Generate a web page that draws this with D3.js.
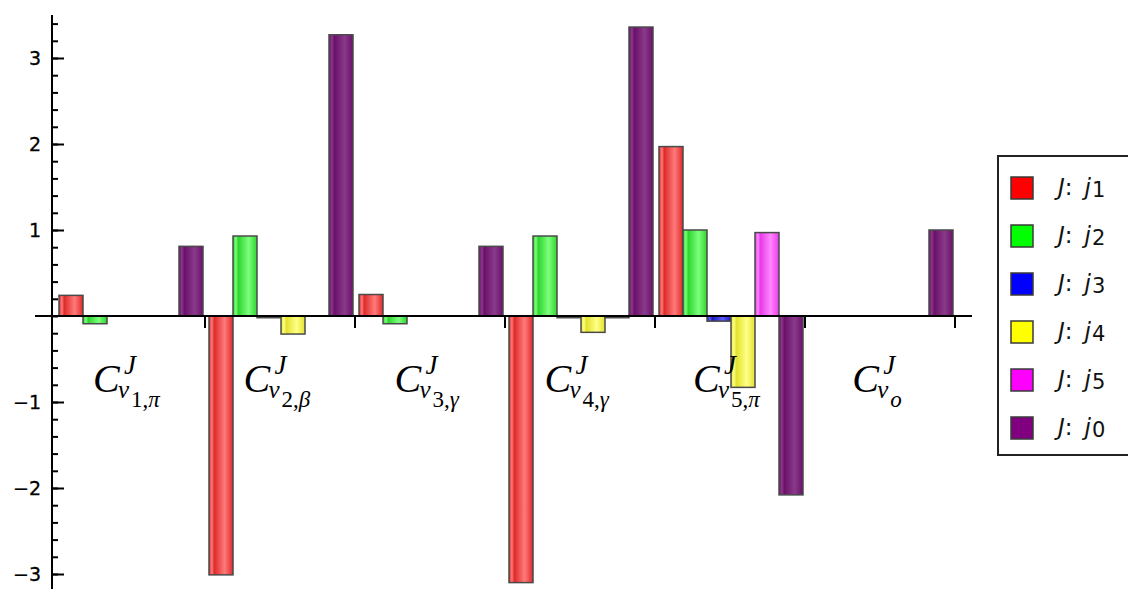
<!DOCTYPE html>
<html>
<head>
<meta charset="utf-8">
<script src="https://cdn.jsdelivr.net/npm/d3@7"></script>
<style>
  html, body { margin: 0; padding: 0; background: #fff; }
  svg { display: block; }
</style>
</head>
<body>
<svg id="chart" width="1128" height="589"></svg>
<script>
// ---------------- data ----------------
const categories = ["v1", "v2", "v3", "v4", "v5", "v0"];
const labelSub1 = ["v", "v", "v", "v", "v", "v"];
const labelNum = ["1,", "2,", "3,", "4,", "5,", ""];
const labelSym = ["π", "β", "γ", "γ", "π", "o"];
const seriesNames = ["j1", "j2", "j3", "j4", "j5", "j0"];
const legendSubs = ["1", "2", "3", "4", "5", "0"];
const j1 = [0.24, -3.01, 0.25, -3.10, 1.97, 0];
const j2 = [-0.09, 0.93, -0.09, 0.93, 1.00, 0];
const j3 = [0, -0.02, 0, -0.02, -0.06, 0];
const j4 = [0, -0.21, 0, -0.19, -0.83, 0];
const j5 = [0, 0, 0, -0.02, 0.97, 0];
const j0 = [0.81, 3.27, 0.81, 3.36, -2.08, 1.00];
const yTickValues = [-3, -2, -1, 1, 2, 3];
const seriesValues = [j1, j2, j3, j4, j5, j0];

// ---------------- styles ----------------
const baseColors = ["#ff0000", "#00ff00", "#0000ff", "#ffff00", "#ff00ff", "#800080"];
const barDark = ["#de2a2a", "#2ed52e", "#1a1ab8", "#e2e22e", "#e83ae8", "#6a106a"];
const barLight = ["#ff7a7a", "#7cff7c", "#5a5aff", "#ffff86", "#ff86ff", "#8a3a8a"];

const svg = d3.select("#chart");
const defs = svg.append("defs");
seriesNames.forEach((s, i) => {
  const g = defs.append("linearGradient").attr("id", "grad" + i)
    .attr("x1", "0%").attr("x2", "100%").attr("y1", "0%").attr("y2", "0%");
  g.append("stop").attr("offset", "0%").attr("stop-color", barDark[i]);
  g.append("stop").attr("offset", "12%").attr("stop-color", barLight[i]);
  g.append("stop").attr("offset", "22%").attr("stop-color", barDark[i]);
  g.append("stop").attr("offset", "65%").attr("stop-color", barLight[i]);
  g.append("stop").attr("offset", "100%").attr("stop-color", barDark[i]);
});

// ---------------- scales ----------------
const x0 = d3.scaleBand().domain(categories).range([55, 955]).padding(0);
const x1 = d3.scaleBand().domain(seriesNames).range([4, 148]).padding(0);
const y = d3.scaleLinear().domain([-3, 3]).range([574, 58]);
const axisX = 52;

// ---------------- bars ----------------
const barData = [];
categories.forEach((c, ci) => {
  seriesNames.forEach((s, si) => {
    const v = seriesValues[si][ci];
    if (v !== 0) barData.push({ c, s, si, v });
  });
});

svg.append("g").selectAll("rect").data(barData).join("rect")
  .attr("x", d => x0(d.c) + x1(d.s))
  .attr("width", x1.bandwidth())
  .attr("y", d => Math.min(y(d.v), y(0)))
  .attr("height", d => Math.max(1.5, Math.abs(y(d.v) - y(0))))
  .attr("fill", d => `url(#grad${d.si})`)
  .attr("stroke", "#4a4a4a")
  .attr("stroke-width", 1.5);

// ---------------- y axis ----------------
const yAxisG = svg.append("g").attr("transform", `translate(${axisX},0)`);
const minorTicks = d3.range(-16, 18).map(k => k * 0.2).filter(v => y(v) >= 14 && y(v) <= 589);
yAxisG.append("g")
  .call(d3.axisLeft(y).tickValues(minorTicks).tickSize(-6).tickFormat(""))
  .call(g => g.select(".domain").remove())
  .call(g => g.selectAll("line").attr("stroke", "#000").attr("stroke-width", 2));
yAxisG.append("g")
  .call(d3.axisLeft(y).tickValues(yTickValues).tickSize(-12).tickPadding(11).tickFormat(d3.format("d")))
  .call(g => g.select(".domain").remove())
  .call(g => g.selectAll("line").attr("stroke", "#000").attr("stroke-width", 2))
  .call(g => g.selectAll("text").attr("font-family", "DejaVu Sans, sans-serif")
    .attr("font-size", 19).attr("fill", "#000").attr("stroke", "#000").attr("stroke-width", 0.3));
yAxisG.append("line").attr("x1", 0).attr("x2", 0)
  .attr("y1", y(3.5)).attr("y2", 589).attr("stroke", "#000").attr("stroke-width", 2);

// ---------------- x axis ----------------
svg.append("line").attr("x1", 35).attr("x2", 972)
  .attr("y1", y(0)).attr("y2", y(0)).attr("stroke", "#000").attr("stroke-width", 2);
svg.append("g").selectAll("line").data(categories).join("line")
  .attr("x1", d => x0(d) + x0.bandwidth()).attr("x2", d => x0(d) + x0.bandwidth())
  .attr("y1", y(0)).attr("y2", y(0) + 12)
  .attr("stroke", "#000").attr("stroke-width", 2);

// ---------------- category labels ----------------
const serif = "Liberation Serif, Times New Roman, serif";
categories.forEach((c, ci) => {
  const g = svg.append("g");
  g.append("text").attr("x", 0).attr("y", 392).text("C")
    .attr("font-family", serif).attr("font-style", "italic").attr("font-size", 40);
  g.append("text").attr("x", 31).attr("y", 374).text("J")
    .attr("font-family", serif).attr("font-style", "italic").attr("font-size", 27);
  g.append("text").attr("x", 25).attr("y", 398).text(labelSub1[ci])
    .attr("font-family", serif).attr("font-style", "italic").attr("font-size", 25);
  const t = g.append("text").attr("x", 38).attr("y", 407)
    .attr("font-family", serif).attr("font-size", 23);
  t.append("tspan").text(labelNum[ci]);
  t.append("tspan").attr("font-style", "italic").text(labelSym[ci]);
  const bb = g.node().getBBox();
  const cx = x0(c) + x0.bandwidth() / 2 - 3;
  g.attr("transform", `translate(${cx - bb.width / 2 - bb.x},0)`);
});

// ---------------- legend ----------------
const legend = svg.append("g");
legend.append("rect").attr("x", 998).attr("y", 156).attr("width", 140).attr("height", 299)
  .attr("fill", "#fff").attr("stroke", "#222").attr("stroke-width", 2);
const ly = d3.scalePoint().domain(seriesNames).range([188, 428]);
seriesNames.forEach((s, i) => {
  legend.append("rect").attr("x", 1011).attr("y", ly(s) - 11).attr("width", 22).attr("height", 22)
    .attr("fill", baseColors[i]).attr("stroke", "#3a3a3a").attr("stroke-width", 1.5);
  const t = legend.append("text").attr("x", 1058).attr("y", ly(s) + 7)
    .attr("font-family", "DejaVu Sans, Verdana, sans-serif").attr("font-size", 23).attr("fill", "#111");
  t.append("tspan").attr("font-style", "italic").text("J");
  t.append("tspan").text(":");
  t.append("tspan").attr("font-style", "italic").attr("dx", 12).text("j");
  t.append("tspan").attr("font-size", 21).attr("dy", 2).attr("dx", 1).text(legendSubs[i]);
});
</script>
</body>
</html>
